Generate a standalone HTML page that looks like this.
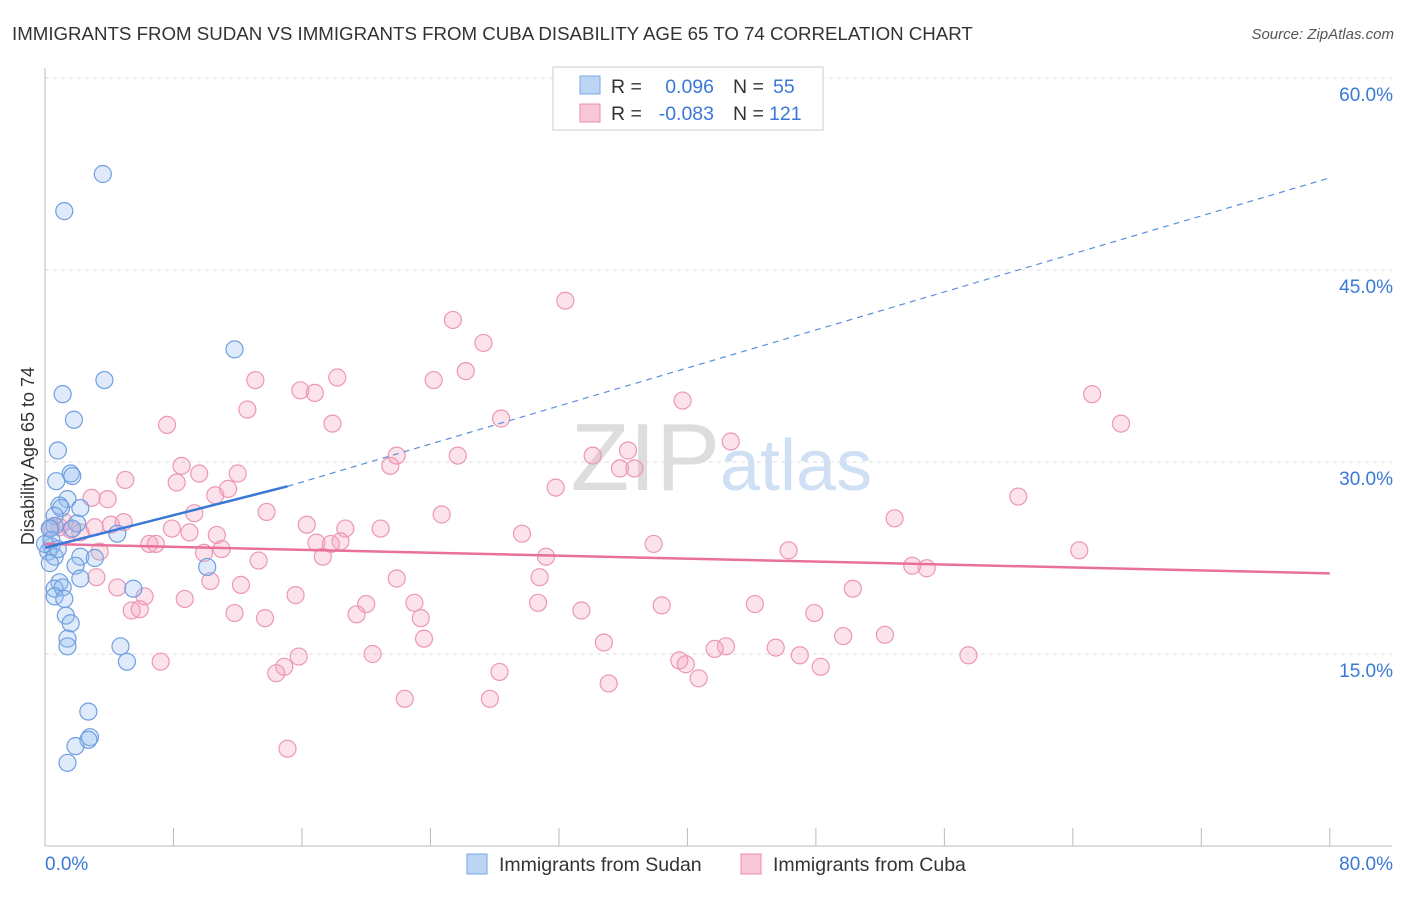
<!DOCTYPE html>
<html><head><meta charset="utf-8"><style>
body{margin:0;background:#fff;font-family:"Liberation Sans",sans-serif;}
svg text{font-family:"Liberation Sans",sans-serif;}
</style></head><body>
<svg id="chart" width="1406" height="892" xmlns="http://www.w3.org/2000/svg">
<text x="12" y="40" font-size="18.7" fill="#333">IMMIGRANTS FROM SUDAN VS IMMIGRANTS FROM CUBA DISABILITY AGE 65 TO 74 CORRELATION CHART</text>
<text x="1394" y="39" font-size="15" fill="#555" font-style="italic" text-anchor="end">Source: ZipAtlas.com</text>
<text x="720" y="490" font-size="96" fill="#ddd" text-anchor="end" font-family="Liberation Serif">ZIP</text>
<text x="720" y="490" font-size="72" fill="#cfe0f5">atlas</text>
<g id="grid"></g><g id="axes"></g><g id="marks"></g>
<g>
<rect x="553" y="67" width="270" height="63" fill="#fff" stroke="#ccc"/>
<rect x="580" y="76" width="20" height="18" fill="#bcd5f5" stroke="#7aa6e0"/>
<text x="611" y="93" font-size="19.5" fill="#333">R =</text>
<text x="714" y="93" font-size="19.5" fill="#3a78d8" text-anchor="end">0.096</text>
<text x="733" y="93" font-size="19.5" fill="#333">N =</text>
<text x="773" y="93" font-size="19.5" fill="#3a78d8">55</text>
<rect x="580" y="104" width="20" height="18" fill="#f9c8d8" stroke="#ec8db0"/>
<text x="611" y="120" font-size="19.5" fill="#333">R =</text>
<text x="714" y="120" font-size="19.5" fill="#3a78d8" text-anchor="end">-0.083</text>
<text x="733" y="120" font-size="19.5" fill="#333">N =</text>
<text x="769" y="120" font-size="19.5" fill="#3a78d8">121</text>
</g>
<g>
<rect x="467" y="854" width="20" height="20" fill="#bcd5f5" stroke="#7aa6e0"/>
<text x="499" y="871" font-size="19.5" fill="#333">Immigrants from Sudan</text>
<rect x="741" y="854" width="20" height="20" fill="#f9c8d8" stroke="#ec8db0"/>
<text x="773" y="871" font-size="19.5" fill="#333">Immigrants from Cuba</text>
</g>
<text transform="translate(34,456) rotate(-90)" font-size="18" fill="#333" text-anchor="middle">Disability Age 65 to 74</text>
</svg>
<script>
const yTicks=[15,30,45,60];
const yTickLabels=["15.0%","30.0%","45.0%","60.0%"];
const xTickCount=10;
const sudanX=[3.6,1.2,11.8,3.7,1.1,1.8,0.8,1.6,1.7,0.7,1.4,2.2,0.9,1.0,0.6,2.0,0.6,0.3,1.7,4.5,0.4,0.2,0.6,2.2,3.1,0.3,1.9,10.1,0.9,2.2,0.6,5.5,1.1,0.6,1.2,1.3,1.6,1.4,1.4,4.7,5.1,2.7,2.8,2.7,1.9,1.4,0.0,0.3,0.4,0.8];
const sudanY=[52.5,49.6,38.8,36.4,35.3,33.3,30.9,29.1,28.9,28.5,27.1,26.4,26.6,26.4,25.8,25.2,25.0,24.8,24.8,24.4,23.4,23.0,22.6,22.6,22.5,22.1,21.9,21.8,20.6,20.9,20.1,20.1,20.2,19.5,19.3,18.0,17.4,16.2,15.6,15.6,14.4,10.5,8.5,8.3,7.8,6.5,23.6,24.8,23.9,23.2];
const cubaX=[32.4,25.4,27.3,26.2,18.2,13.1,24.2,15.9,16.8,65.2,39.7,12.6,28.4,17.9,67.0,7.6,42.7,36.3,21.9,25.7,34.1,8.5,21.5,35.8,36.7,9.6,12.0,5.0,8.2,11.4,31.8,10.6,60.6,2.9,3.9,13.8,9.3,24.7,52.9,4.1,4.9,16.3,18.7,7.9,20.9,0.9,1.6,9.0,29.7,10.7,16.9,18.4,6.5,6.9,17.8,37.9,11.0,46.3,64.4,3.4,9.9,31.2,17.3,13.3,54.0,54.9,30.8,3.2,10.3,21.9,12.2,4.5,50.3,15.6,8.7,6.2,30.7,20.0,23.0,44.2,38.4,5.4,5.9,11.8,19.4,33.4,47.9,23.4,13.7,49.7,52.3,23.6,34.8,42.4,41.7,45.5,20.4,15.8,47.0,57.5,7.2,39.5,39.9,14.9,48.3,28.3,14.4,40.7,35.1,22.4,27.7,15.1,0.4,1.2,2.2,3.1];
const cubaY=[42.6,41.1,39.3,37.1,36.6,36.4,36.4,35.6,35.4,35.3,34.8,34.1,33.4,33.0,33.0,32.9,31.6,30.9,30.5,30.5,30.5,29.7,29.7,29.5,29.5,29.1,29.1,28.6,28.4,27.9,28.0,27.4,27.3,27.2,27.1,26.1,26.0,25.9,25.6,25.1,25.3,25.1,24.8,24.8,24.8,24.9,24.7,24.5,24.4,24.3,23.7,23.8,23.6,23.6,23.6,23.6,23.2,23.1,23.1,23.0,22.9,22.6,22.6,22.3,21.9,21.7,21.0,21.0,20.7,20.9,20.4,20.2,20.1,19.6,19.3,19.5,19.0,18.9,19.0,18.9,18.8,18.4,18.5,18.2,18.1,18.4,18.2,17.8,17.8,16.4,16.5,16.2,15.9,15.6,15.4,15.5,15.0,14.8,14.9,14.9,14.4,14.5,14.2,14.0,14.0,13.6,13.5,13.1,12.7,11.5,11.5,7.6,24.9,25.3,24.5,24.9];
const sudanTrend=[[0,23.3],[15.1,28.1]];
const sudanDash=[[15.1,28.1],[80,52.2]];
const cubaTrend=[[0,23.6],[80,21.3]];
const X=v=>45+v*16.06;
const Y=v=>654-(v-15)*12.8;
const NS="http://www.w3.org/2000/svg";
function mk(parent,tag,attrs){const e=document.createElementNS(NS,tag);for(const k in attrs)e.setAttribute(k,attrs[k]);parent.appendChild(e);return e;}
const grid=document.getElementById('grid'),axes=document.getElementById('axes'),marks=document.getElementById('marks');
yTicks.forEach((t,i)=>{
 const l=mk(grid,'line',{x1:45,x2:1392,y1:Y(t),y2:Y(t),stroke:'#ddd','stroke-dasharray':'4,4'});
 
 
 const tx=mk(axes,'text',{x:1393,y:Y(t)+23,'font-size':19,fill:'#3a78d8','text-anchor':'end'});
 tx.textContent=yTickLabels[i];
 
 
});
const ax=mk(axes,'line',{x1:45,x2:1392,y1:846,y2:846,stroke:'#bbb'});


const ay=mk(axes,'line',{x1:45,x2:45,y1:68,y2:846,stroke:'#bbb'});


for(let i=1;i<=xTickCount;i++){const t=mk(axes,'line',{x1:X(i*8),x2:X(i*8),y1:828,y2:846,stroke:'#bbb'});
 
 }
[["0.0%",45,'start'],["80.0%",1393,'end']].forEach(a=>{const t=mk(axes,'text',{x:a[1],y:870,'font-size':19,fill:'#3a78d8','text-anchor':a[2]});t.textContent=a[0];
 
 });
cubaX.forEach((v,i)=>{const c=mk(marks,'circle',{cx:X(v),cy:Y(cubaY[i]),r:8.5,fill:'rgba(244,160,190,0.3)',stroke:'#ec97b6','stroke-width':1.2});
 
 });
sudanX.forEach((v,i)=>{const c=mk(marks,'circle',{cx:X(v),cy:Y(sudanY[i]),r:8.5,fill:'rgba(150,190,240,0.3)',stroke:'#6f9fe0','stroke-width':1.2});
 
 });
const l1=mk(marks,'line',{x1:X(cubaTrend[0][0]),y1:Y(cubaTrend[0][1]),x2:X(cubaTrend[1][0]),y2:Y(cubaTrend[1][1]),stroke:'#e8709a','stroke-width':2.5});


const l2=mk(marks,'line',{x1:X(sudanDash[0][0]),y1:Y(sudanDash[0][1]),x2:X(sudanDash[1][0]),y2:Y(sudanDash[1][1]),stroke:'#5b8fdc','stroke-width':1.2,'stroke-dasharray':'6,5'});


const l3=mk(marks,'line',{x1:X(sudanTrend[0][0]),y1:Y(sudanTrend[0][1]),x2:X(sudanTrend[1][0]),y2:Y(sudanTrend[1][1]),stroke:'#3a78d8','stroke-width':2.5});


</script>
</body></html>
